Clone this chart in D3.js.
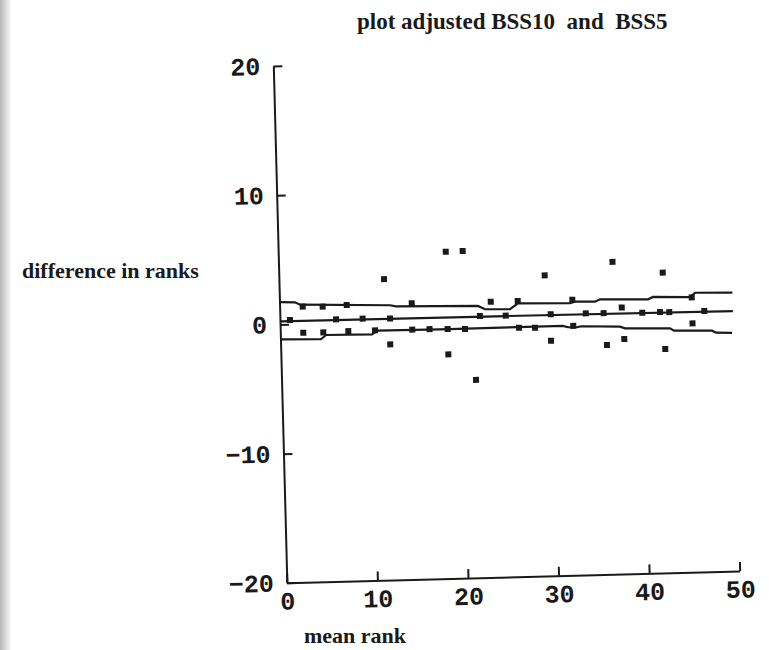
<!DOCTYPE html>
<html>
<head>
<meta charset="utf-8">
<script src="https://cdn.jsdelivr.net/npm/d3@7"></script>
<style>
  body { margin: 0; background: #fff; }
  svg { display: block; }
</style>
</head>
<body>
<svg class="canvas" width="769" height="650"></svg>
<script>
const xTicks = [0, 10, 20, 30, 40, 50];
const yTicks = [-20, -10, 0, 10, 20];

// points: mean rank vs difference in ranks
const pointX = [1.11, 2.55, 2.54, 4.75, 4.75, 6.19, 7.41, 7.51, 9.13, 10.46, 11.6, 12.15, 12.1, 14.59, 14.57, 16.48,
  18.49, 18.48, 18.48, 20.36, 20.39, 21.46, 22.08, 23.31, 24.92, 26.29, 26.35, 28.12, 29.34, 29.89, 29.85, 32.32,
  32.35, 33.76, 35.73, 36.01, 36.86, 37.75, 37.94, 40.0, 41.96, 42.37, 42.43, 42.98, 45.5, 45.51, 46.85];
const pointY = [0.32, 1.33, -0.69, 1.29, -0.7, 0.28, 1.37, -0.65, 0.28, -0.65, 3.29, 0.24, -1.77, 1.37, -0.67, -0.66,
  5.29, -0.69, -2.65, 5.31, -0.73, -4.69, 0.25, 1.33, 0.22, 1.33, -0.74, -0.77, 3.26, 0.24, -1.81, 1.32,
  -0.71, 0.24, 0.22, -2.25, 4.16, 0.62, -1.82, 0.17, 0.19, 3.23, -2.68, 0.17, 1.26, -0.75, 0.18];

// smoothed bands
const upperX = [0.17, 1.71, 2.26, 12.18, 12.84, 21.89, 22.66, 25.41, 26.31, 32.05, 32.61, 34.81, 35.38, 40.67, 41.23, 45.31, 45.88, 50];
const upperY = [1.73, 1.68, 1.49, 1.26, 1.17, 1.03, 0.76, 0.71, 1.14, 1.05, 1.16, 1.12, 1.3, 1.2, 1.37, 1.29, 1.61, 1.54];
const midX = [0.1, 25, 50];
const midY = [0.24, 0.19, 0.12];
const lowerX = [0.06, 4.47, 5.04, 10.12, 10.68, 17.63, 31.21, 31.76, 32.76, 33.2, 37.5, 38.05, 43.01, 43.45, 47.64, 48.08, 49.84];
const lowerY = [-1.15, -1.23, -0.91, -0.96, -0.68, -0.7, -0.69, -0.8, -0.82, -0.75, -0.86, -1.0, -1.09, -1.28, -1.36, -1.52, -1.56];

const svg = d3.select(".canvas");

// scanned page edge
const grad = svg.append("defs").append("linearGradient").attr("id", "edge");
grad.append("stop").attr("offset", "0%").attr("stop-color", "#b8b8b8");
grad.append("stop").attr("offset", "100%").attr("stop-color", "#fff");
svg.append("rect").attr("x", 0).attr("y", 0).attr("width", 12).attr("height", 650).attr("fill", "url(#edge)");

const x = d3.scaleLinear().domain([0, 50]).range([280, 733]);
const y = d3.scaleLinear().domain([-20, 20]).range([577, 60]);

// the scan is slightly tilted
const g = svg.append("g").attr("transform", "rotate(-1.5, 507, 319)");

const yAxis = g.append("g")
  .attr("transform", `translate(${x(0)},0)`)
  .call(d3.axisLeft(y).tickValues(yTicks).tickSize(-9).tickSizeOuter(0).tickPadding(13));

const xAxis = g.append("g")
  .attr("transform", `translate(0,${y(-20)})`)
  .call(d3.axisBottom(x).tickValues(xTicks).tickSize(-9).tickSizeOuter(0).tickPadding(9));

[yAxis, xAxis].forEach(a => {
  a.selectAll("path, line").attr("stroke", "#1a1a1a").attr("stroke-width", 2);
  a.selectAll("text")
    .attr("fill", "#1a1a1a")
    .style("font-family", "'Liberation Mono', 'DejaVu Sans Mono', monospace")
    .style("font-weight", "bold")
    .style("font-size", "25px");
});

const line = d3.line().x(d => x(d[0])).y(d => y(d[1]));
const bands = [
  d3.zip(upperX, upperY),
  d3.zip(midX, midY),
  d3.zip(lowerX, lowerY)
];
g.selectAll("path.band")
  .data(bands)
  .enter()
  .append("path")
  .attr("class", "band")
  .attr("d", line)
  .attr("fill", "none")
  .attr("stroke", "#1a1a1a")
  .attr("stroke-width", 2.2);

g.selectAll("rect.pt")
  .data(d3.zip(pointX, pointY))
  .enter()
  .append("rect")
  .attr("class", "pt")
  .attr("x", d => x(d[0]) - 3)
  .attr("y", d => y(d[1]) - 3)
  .attr("width", 6)
  .attr("height", 6)
  .attr("fill", "#1a1a1a");

const serif = "'Liberation Serif', 'Times New Roman', serif";
svg.append("text")
  .attr("x", 357).attr("y", 29)
  .style("font-family", serif).style("font-weight", "bold").style("font-size", "23px")
  .style("white-space", "pre")
  .attr("fill", "#1a1a1a")
  .text("plot adjusted BSS10  and  BSS5");

svg.append("text")
  .attr("x", 22).attr("y", 278)
  .style("font-family", serif).style("font-weight", "bold").style("font-size", "22px")
  .attr("fill", "#1a1a1a")
  .text("difference in ranks");

svg.append("text")
  .attr("x", 304).attr("y", 643)
  .style("font-family", serif).style("font-weight", "bold").style("font-size", "22px")
  .attr("fill", "#1a1a1a")
  .text("mean rank");
</script>
</body>
</html>
